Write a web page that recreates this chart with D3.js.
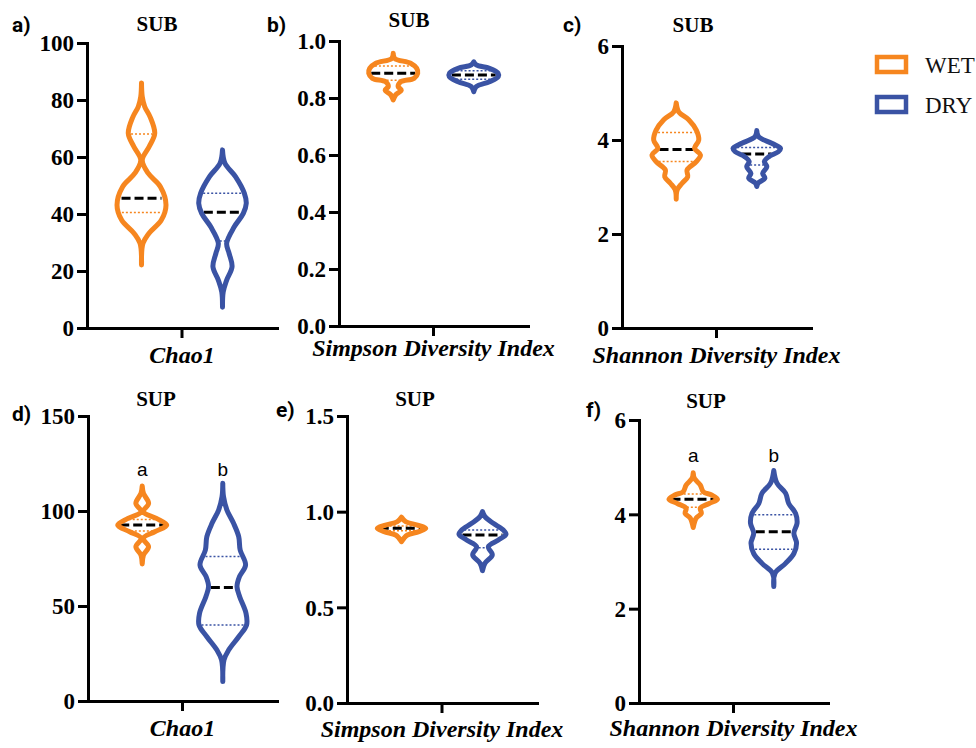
<!DOCTYPE html>
<html>
<head>
<meta charset="utf-8">
<script src="https://cdn.jsdelivr.net/npm/d3@7"></script>
<style>
body { margin: 0; background: #fff; }
svg { display: block; }
.axis path, .axis line { stroke: #000; stroke-width: 3px; }
.axis path { stroke-linecap: square; }
.y-axis text { font-family: "Liberation Serif", "Times New Roman", serif; font-weight: bold; font-size: 23px; fill: #000; }
.x-axis text { font-family: "Liberation Serif", "Times New Roman", serif; font-weight: bold; font-style: italic; font-size: 24px; fill: #000; }
.title { font-family: "Liberation Serif", serif; font-weight: bold; font-size: 21px; }
.letter { font-family: Roboto, "Liberation Sans", sans-serif; font-weight: bold; font-size: 21px; }
.sig { font-family: "Liberation Sans", Arial, sans-serif; font-size: 19px; }
.legend text { font-family: "Liberation Serif", serif; font-size: 23px; fill: #111; }
</style>
</head>
<body>
<svg id="chart" width="976" height="748"></svg>
<script>
const groups = ['WET', 'DRY']
const colors = ['#f6861f', '#3a53a4']

// violin outlines: [value, relative half width]
const subChaoWet = [[86,0],[81.2,0.03],[77.7,0.13],[74.1,0.35],[68.3,0.54],[63.6,0.31],[58.9,0.03],[54.3,0.27],[49.6,0.77],[43.2,1.0],[37.9,0.81],[33.2,0.3],[29.7,0.06],[22.1,0]]
const subChaoDry = [[62.5,0],[57.8,0.1],[53.1,0.53],[47.3,0.89],[43.7,0.97],[40.2,0.85],[35.5,0.48],[29.7,0.17],[26.2,0.27],[21.5,0.39],[16.8,0.17],[12.7,0.03],[7.3,0]]
const subSimpWet = [[0.957,0],[0.939,0.06],[0.922,0.71],[0.904,0.96],[0.887,1.0],[0.869,0.85],[0.857,0.31],[0.840,0.2],[0.828,0.33],[0.811,0.1],[0.793,0]]
const subSimpDry = [[0.927,0],[0.916,0.1],[0.904,0.64],[0.887,0.99],[0.875,1.0],[0.857,0.64],[0.840,0.1],[0.822,0]]
const subShanWet = [[4.79,0],[4.60,0.1],[4.43,0.51],[4.21,0.82],[4.0,0.92],[3.82,0.75],[3.68,0.99],[3.54,0.82],[3.36,0.44],[3.22,0.47],[3.08,0.24],[2.94,0.04],[2.74,0]]
const subShanDry = [[4.20,0],[4.07,0.07],[3.93,0.61],[3.82,0.97],[3.75,0.88],[3.64,0.48],[3.54,0.31],[3.43,0.41],[3.29,0.24],[3.19,0.33],[3.08,0.05],[3.01,0]]
const supChaoWet = [[113.2,0],[109.3,0.05],[104,0.26],[99.6,0.04],[96.1,0.58],[92.6,1.0],[89.1,0.51],[85.6,0.04],[81.2,0.26],[76.8,0.05],[72.1,0]]
const supChaoDry = [[114.6,0],[107.5,0.03],[100.5,0.17],[93.5,0.44],[86.5,0.65],[79.5,0.71],[71.6,0.93],[65.4,0.68],[60.2,0.58],[54.9,0.69],[46.1,0.95],[40,0.97],[33.8,0.65],[26.8,0.24],[21.6,0.05],[10.2,0]]
const supSimpWet = [[0.971,0],[0.948,0.17],[0.930,0.65],[0.913,0.99],[0.896,0.71],[0.878,0.24],[0.861,0.1],[0.843,0]]
const supSimpDry = [[1.0,0],[0.974,0.1],[0.939,0.44],[0.904,0.85],[0.882,0.96],[0.852,0.65],[0.817,0.24],[0.774,0.4],[0.730,0.1],[0.692,0]]
const supShanWet = [[4.88,0],[4.76,0.05],[4.62,0.29],[4.48,0.41],[4.41,0.75],[4.32,0.99],[4.23,0.65],[4.13,0.29],[4.02,0.33],[3.92,0.12],[3.72,0]]
const supShanDry = [[4.93,0],[4.66,0.13],[4.45,0.48],[4.23,0.61],[4.02,0.89],[3.81,0.95],[3.60,0.82],[3.39,0.93],[3.17,0.82],[2.96,0.48],[2.75,0.05],[2.47,0]]

// [q1, median, q3]
const subChaoWetQ = [40.5, 45.5, 68.1]
const subChaoDryQ = [30.5, 40.6, 47.3]
const subSimpWetQ = [0.862, 0.887, 0.912]
const subSimpDryQ = [0.866, 0.881, 0.896]
const subShanWetQ = [3.54, 3.80, 4.16]
const subShanDryQ = [3.47, 3.70, 3.84]
const supChaoWetQ = [89.5, 92.6, 95.5]
const supChaoDryQ = [40, 59.8, 76.0]
const supSimpWetQ = [0.90, 0.913, 0.925]
const supSimpDryQ = [0.812, 0.878, 0.904]
const supShanWetQ = [4.15, 4.32, 4.43]
const supShanDryQ = [3.26, 3.63, 3.99]

const chaoTicks = [0, 20, 40, 60, 80, 100]
const simpTicks = [0, 0.2, 0.4, 0.6, 0.8, 1.0]
const shanTicks = [0, 2, 4, 6]
const supChaoTicks = [0, 50, 100, 150]
const supSimpTicks = [0, 0.5, 1.0, 1.5]
const sigLetters = ['a', 'b']

const svg = d3.select('#chart')
const halfWidth = d3.scaleLinear().domain([0, 1]).range([0, 24.5])
const strokeW = 5

const panels = [
    { letter: 'a)', title: 'SUB', label: 'Chao1', ticks: chaoTicks, fmt: d3.format('d'), max: 100,
      left: 87, right: 277, top: 43, bottom: 328, labelY: 35, titleX: 157, titleY: 31, letterX: 12, letterY: 32,
      violins: [[subChaoWet, subChaoWetQ], [subChaoDry, subChaoDryQ]] }
  , { letter: 'b)', title: 'SUB', label: 'Simpson Diversity Index', ticks: simpTicks, fmt: d3.format('.1f'), max: 1,
      left: 339, right: 528, top: 41, bottom: 326, labelY: 30, titleX: 409, titleY: 27, letterX: 267, letterY: 32,
      violins: [[subSimpWet, subSimpWetQ], [subSimpDry, subSimpDryQ]] }
  , { letter: 'c)', title: 'SUB', label: 'Shannon Diversity Index', ticks: shanTicks, fmt: d3.format('d'), max: 6,
      left: 622, right: 811, top: 46, bottom: 328, labelY: 35, titleX: 693, titleY: 32, letterX: 563, letterY: 32,
      violins: [[subShanWet, subShanWetQ], [subShanDry, subShanDryQ]] }
  , { letter: 'd)', title: 'SUP', label: 'Chao1', ticks: supChaoTicks, fmt: d3.format('d'), max: 150,
      left: 88, right: 277, top: 416, bottom: 701, labelY: 35, titleX: 156, titleY: 406, letterX: 12, letterY: 421,
      sigY: 476, violins: [[supChaoWet, supChaoWetQ], [supChaoDry, supChaoDryQ]] }
  , { letter: 'e)', title: 'SUP', label: 'Simpson Diversity Index', ticks: supSimpTicks, fmt: d3.format('.1f'), max: 1.5,
      left: 347, right: 537, top: 416, bottom: 703, labelY: 34, titleX: 415, titleY: 406, letterX: 276, letterY: 417,
      violins: [[supSimpWet, supSimpWetQ], [supSimpDry, supSimpDryQ]] }
  , { letter: 'f)', title: 'SUP', label: 'Shannon Diversity Index', ticks: shanTicks, fmt: d3.format('d'), max: 6,
      left: 639, right: 828, top: 420, bottom: 703, labelY: 33, titleX: 706, titleY: 408, letterX: 586, letterY: 417,
      sigY: 462, violins: [[supShanWet, supShanWetQ], [supShanDry, supShanDryQ]] }
]

const drawPanel = p => {
    const g = svg.append('g')
    const y = d3.scaleLinear().domain([0, p.max]).range([p.bottom, p.top])
    const x = d3.scalePoint().domain(groups).range([p.left, p.right]).padding(0.673)
    const xCat = d3.scaleBand().domain([p.label]).range([p.left, p.right])

    p.violins.forEach(([profile, q], i) => {
        const cx = x(groups[i])
        const col = colors[i]
        const widthAt = d3.scaleLinear()
            .domain(profile.map(d => d[0]))
            .range(profile.map(d => d[1]))
            .clamp(true)
        const inner = v => Math.max(0, halfWidth(widthAt(v)) - strokeW / 2)
        // quartile lines
        ;[q[0], q[2]].forEach(v => {
            g.append('line')
                .attr('x1', cx - inner(v)).attr('x2', cx + inner(v))
                .attr('y1', y(v)).attr('y2', y(v))
                .attr('stroke', col).attr('stroke-width', 1.5)
                .attr('stroke-dasharray', '2,2')
        })
        g.append('line')
            .attr('x1', cx - inner(q[1])).attr('x2', cx + inner(q[1]))
            .attr('y1', y(q[1])).attr('y2', y(q[1]))
            .attr('stroke', '#000').attr('stroke-width', 3)
            .attr('stroke-dasharray', '9,4')
        const area = d3.area()
            .y(d => y(d[0]))
            .x0(d => cx - halfWidth(d[1]))
            .x1(d => cx + halfWidth(d[1]))
            .curve(d3.curveCatmullRom.alpha(0.5))
        g.append('path')
            .attr('d', area(profile))
            .attr('fill', 'none')
            .attr('stroke', col)
            .attr('stroke-width', strokeW)
            .attr('stroke-linejoin', 'round')
            .attr('stroke-linecap', 'round')
        if (p.sigY) {
            g.append('text')
                .attr('class', 'sig')
                .attr('x', cx).attr('y', p.sigY)
                .attr('text-anchor', 'middle')
                .text(sigLetters[i])
        }
    })

    g.append('g')
        .attr('class', 'axis y-axis')
        .attr('transform', `translate(${p.left},0)`)
        .call(d3.axisLeft(y).tickValues(p.ticks).tickFormat(p.fmt).tickSize(10).tickSizeOuter(0).tickPadding(3))
        .selectAll('.tick text').attr('dy', '0.34em')
    const xa = g.append('g')
        .attr('class', 'axis x-axis')
        .attr('transform', `translate(0,${p.bottom})`)
        .call(d3.axisBottom(xCat).tickSize(10).tickSizeOuter(0))
    xa.selectAll('.tick text').attr('dy', null).attr('y', p.labelY)

    g.append('text').attr('class', 'title')
        .attr('x', p.titleX).attr('y', p.titleY)
        .attr('text-anchor', 'middle').text(p.title)
    g.append('text').attr('class', 'letter')
        .attr('x', p.letterX).attr('y', p.letterY).text(p.letter)
}

panels.forEach(drawPanel)

const legend = svg.append('g').attr('class', 'legend')
const legendY = d3.scalePoint().domain(groups).range([64.5, 104.5])
groups.forEach((grp, i) => {
    legend.append('rect')
        .attr('x', 877).attr('y', legendY(grp) - 7.5)
        .attr('width', 29).attr('height', 15)
        .attr('fill', 'none').attr('stroke', colors[i]).attr('stroke-width', 4.5)
    legend.append('text')
        .attr('x', 925).attr('y', legendY(grp) + 8.5)
        .text(grp)
})
</script>
</body>
</html>
